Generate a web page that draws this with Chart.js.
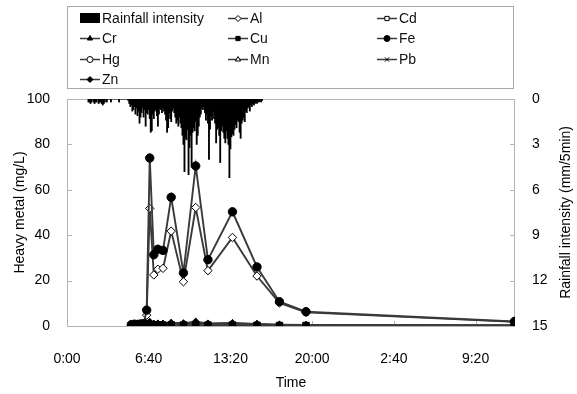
<!DOCTYPE html>
<html><head><meta charset="utf-8">
<script src="https://cdn.jsdelivr.net/npm/chart.js@4/dist/chart.umd.min.js"></script>
<style>html,body{margin:0;padding:0;background:#fff;}canvas{display:block;}</style>
</head><body>
<canvas id="c" width="577" height="394"></canvas>
<script>
// ---- data (minutes since 0:00 of day 1) ----
const sampleTimes = [315,330,345,360,375,390,405,425,445,470,510,570,630,690,810,930,1040,1170,2190];
const Al = [0.3,0.4,0.3,0.5,0.6,4.8,51.8,22.5,25.0,25.4,41.8,19.5,52.2,24.4,39.0,22.0,10.2,6.0,1.8];
const Cd = [0.01,0.01,0.01,0.01,0.01,0.01,0.02,0.01,0.01,0.01,0.01,0.01,0.02,0.01,0.01,0.01,0.01,0.01,0.01];
const Cr = [0.05,0.06,0.05,0.07,0.07,0.1,0.2,0.1,0.1,0.1,0.15,0.1,0.2,0.1,0.12,0.08,0.05,0.04,0.02];
const Cu = [0.2,0.3,0.3,0.3,0.3,0.4,0.6,0.4,0.4,0.4,0.5,0.4,0.5,0.4,0.4,0.3,0.2,0.2,0.1];
const Fe = [0.6,0.8,0.7,0.9,1.0,7.0,74.0,31.4,33.8,33.3,56.7,23.4,70.5,29.2,50.3,26.0,10.7,6.3,2.0];
const Hg = [0.01,0.01,0.01,0.01,0.01,0.01,0.01,0.01,0.01,0.01,0.01,0.01,0.01,0.01,0.01,0.01,0.01,0.01,0.01];
const Mn = [0.3,0.4,0.4,0.5,0.5,0.9,1.6,0.8,0.9,0.9,1.2,0.8,1.5,0.9,1.1,0.8,0.5,0.3,0.2];
const Pb = [0.04,0.05,0.05,0.05,0.05,0.08,0.15,0.07,0.07,0.07,0.1,0.06,0.12,0.06,0.08,0.05,0.03,0.02,0.01];
const Zn = [0.5,0.8,0.6,0.9,0.8,1.2,1.8,1.0,1.1,1.0,1.4,1.2,1.9,1.1,1.3,0.9,0.6,0.5,0.3];

// rainfall intensity (mm/5min), one value per 5 minutes starting at 1:45
const rainStart = 105;
const rainStep = 5;
const rain = [
 0.2,0.2,0.3,0.2,0,0.2,0.3,0.2,0.2,0,0.3,0.2,0.2,0.3,0.4,0.3,0.2,0,0.2,0,
 0,0,0.2,0,0,0,0,0,0,0,0.2,0,0,0,0,0,0,0,0,0.1,
 0.3,0.5,0.4,0.8,0.7,0.5,1.0,0.6,1.1,0.8,1.6,1.2,0.9,0.6,1.2,0.7,1.8,0.9,1.0,0.7,
 1.3,2.2,2.1,1.0,1.3,0.8,0.7,1.1,1.8,1.0,0.6,0.7,0.9,0.6,0.8,1.0,1.4,2.2,1.9,0.9,
 1.3,1.5,0.8,0.6,0.9,1.2,1.6,1.4,1.8,1.2,1.6,1.9,2.4,3.0,4.8,2.6,2.7,2.0,5.0,3.2,
 2.4,4.5,2.2,1.9,2.1,1.5,3.0,2.4,1.8,1.2,1.0,0.6,0.7,0.5,0.9,1.4,1.0,1.6,4.0,2.0,
 1.1,1.4,0.8,1.3,1.6,2.9,2.0,1.9,2.4,4.2,2.1,1.8,2.2,2.6,2.9,2.1,2.6,3.0,5.2,3.3,
 2.5,2.3,2.4,2.0,1.7,1.9,1.4,1.5,2.2,2.6,1.6,1.4,1.2,1.5,0.8,0.9,0.6,0.5,0.8,0.4,
 0.5,0.3,0.4,0.3,0.25,0.3,0.2,0.2,0.1,0.2,0.1
];

const xTickValues = [0,400,800,1200,1600,2000];
const xTickLabels = ["0:00","6:40","13:20","20:00","2:40","9:20"];
const xMax = 2193;
const rightTitle = 'Rainfall intensity (mm/5min)';

// ---- styling ----
const FONT = '"Liberation Sans", Arial, sans-serif';
Chart.defaults.font.family = FONT;
Chart.defaults.font.size = 14;
Chart.defaults.color = '#000';

const LINE = '#3a3a3a';
// label, values, marker, fill, radius, draw order (lower = on top)
const metalDefs = [
  ['Al', Al, 'rectRot', '#fff', 4.2, 19],
  ['Cd', Cd, 'rect', '#fff', 3.5, 18],
  ['Cr', Cr, 'triangle', '#000', 3.8, 17],
  ['Cu', Cu, 'rect', '#000', 4.6, 5],
  ['Fe', Fe, 'circle', '#000', 4.2, 6],
  ['Hg', Hg, 'circle', '#fff', 3.5, 15],
  ['Mn', Mn, 'triangle', '#fff', 3.8, 14],
  ['Pb', Pb, 'crossRot', '#000', 3.8, 13],
  ['Zn', Zn, 'rectRot', '#000', 3.6, 12]
];

const datasets = [{
  type: 'bar',
  label: 'Rainfall intensity',
  yAxisID: 'y2',
  data: rain.map((v, i) => ({x: rainStart + i * rainStep, y: v})),
  backgroundColor: '#000',
  borderWidth: 0,
  barThickness: 1.2,
  order: 100
}];
metalDefs.forEach(m => {
  datasets.push({
    type: 'line',
    label: m[0],
    yAxisID: 'y',
    data: sampleTimes.map((t, k) => ({x: t, y: m[1][k]})),
    borderColor: LINE,
    borderWidth: 1.9,
    pointStyle: m[2],
    pointBackgroundColor: m[3],
    pointBorderColor: '#000',
    pointBorderWidth: 1,
    pointRadius: m[4],
    tension: 0,
    fill: false,
    order: m[5]
  });
});

const frameTicks = {
  id: 'frameTicks',
  beforeDatasetsDraw(chart) {
    const {ctx, chartArea: a} = chart;
    ctx.save();
    ctx.strokeStyle = '#b4b4b4';
    ctx.lineWidth = 1;
    ctx.strokeRect(a.left + 0.5, a.top + 0.5, a.right - a.left - 1, a.bottom - a.top);
    ctx.beginPath();
    const ys = chart.scales.y, y2 = chart.scales.y2, xs = chart.scales.x;
    ys.ticks.forEach(t => { const p = Math.round(ys.getPixelForValue(t.value)) + 0.5; ctx.moveTo(a.left, p); ctx.lineTo(a.left + 5, p); });
    y2.ticks.forEach(t => { const p = Math.round(y2.getPixelForValue(t.value)) + 0.5; ctx.moveTo(a.right - 5, p); ctx.lineTo(a.right, p); });
    xs.ticks.forEach(t => { const p = Math.round(xs.getPixelForValue(t.value)) + 0.5; ctx.moveTo(p, a.bottom); ctx.lineTo(p, a.bottom - 5); });
    ctx.stroke();
    ctx.restore();
  },
  afterDraw(chart) {
    const {ctx, chartArea: a} = chart;
    ctx.save();
    ctx.font = '14px ' + FONT;
    ctx.fillStyle = '#000';
    ctx.textAlign = 'center';
    ctx.textBaseline = 'middle';
    ctx.translate(566, (a.top + a.bottom) / 2);
    ctx.rotate(-Math.PI / 2);
    ctx.fillText(rightTitle, 0, 0);
    ctx.restore();
  }
};

const boxLegend = {
  id: 'boxLegend',
  afterDraw(chart) {
    const ctx = chart.ctx;
    const colX = [80, 228, 377];
    const rowY = [18, 38, 59, 79];
    ctx.save();
    ctx.strokeStyle = '#a8a8a8';
    ctx.lineWidth = 1;
    ctx.strokeRect(67.5, 6.5, 446, 82);
    ctx.font = '14px ' + FONT;
    ctx.textBaseline = 'middle';
    ctx.textAlign = 'left';
    chart.data.datasets.forEach((ds, i) => {
      const sx = colX[i % 3], y = rowY[Math.floor(i / 3)];
      if (ds.type === 'bar') {
        ctx.fillStyle = '#000';
        ctx.fillRect(sx, y - 5, 20, 10);
      } else {
        ctx.strokeStyle = LINE;
        ctx.lineWidth = 1.5;
        ctx.beginPath(); ctx.moveTo(sx, y + 0.5); ctx.lineTo(sx + 20, y + 0.5); ctx.stroke();
        ctx.fillStyle = ds.pointBackgroundColor;
        ctx.strokeStyle = '#000';
        ctx.lineWidth = 1;
        Chart.helpers.drawPoint(ctx, {pointStyle: ds.pointStyle, radius: 3, rotation: 0, borderWidth: 1}, sx + 10, y + 0.5);
      }
      ctx.fillStyle = '#111';
      ctx.fillText(ds.label, sx + 22, y + 1);
    });
    ctx.restore();
  }
};

new Chart(document.getElementById('c'), {
  type: 'line',
  data: {datasets},
  plugins: [frameTicks, boxLegend],
  options: {
    responsive: false,
    animation: false,
    devicePixelRatio: 1,
    layout: {padding: {top: 99, left: 0, right: 0, bottom: 0}, autoPadding: false},
    plugins: {legend: {display: false}, tooltip: {enabled: false}},
    scales: {
      x: {
        type: 'linear', min: 0, max: xMax, offset: false,
        grid: {display: false}, border: {display: false},
        afterBuildTicks: s => { s.ticks = xTickValues.map(v => ({value: v})); },
        afterFit: s => { s.height = 68; },
        ticks: {padding: 17, maxRotation: 0, autoSkip: false,
          callback: v => { const k = xTickValues.indexOf(v); return k >= 0 ? xTickLabels[k] : ''; }},
        title: {display: true, text: 'Time', padding: {top: 0, bottom: 2}}
      },
      y: {
        position: 'left', min: 0, max: 100,
        grid: {display: false}, border: {display: false},
        afterFit: s => { s.width = 67; },
        ticks: {stepSize: 20, padding: 9},
        title: {display: true, text: 'Heavy metal (mg/L)', padding: {top: 12, bottom: 0}}
      },
      y2: {
        position: 'right', min: 0, max: 15, reverse: true,
        grid: {display: false}, border: {display: false},
        afterFit: s => { s.width = 62; },
        ticks: {stepSize: 3, padding: 9},
        title: {display: false}
      }
    }
  }
});
</script>
</body></html>
